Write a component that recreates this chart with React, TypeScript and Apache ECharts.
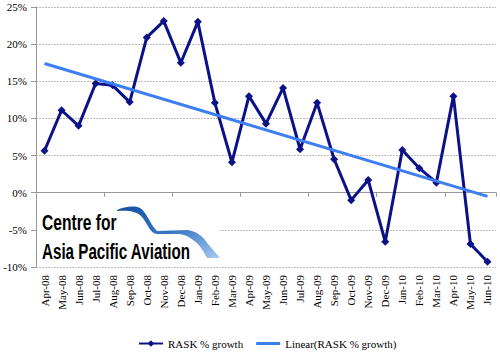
import React, { useEffect, useRef } from "react";
import * as echarts from "echarts";

const categories = [
  "Apr-08", "May-08", "Jun-08", "Jul-08", "Aug-08", "Sep-08", "Oct-08", "Nov-08", "Dec-08",
  "Jan-09", "Feb-09", "Mar-09", "Apr-09", "May-09", "Jun-09", "Jul-09", "Aug-09", "Sep-09",
  "Oct-09", "Nov-09", "Dec-09", "Jan-10", "Feb-10", "Mar-10", "Apr-10", "May-10", "Jun-10",
];
const raskGrowth = [
  5.65, 11.1, 9.0, 14.7, 14.45, 12.2, 20.9, 23.1, 17.5,
  23.0, 12.1, 4.1, 13.0, 9.3, 14.1, 5.85, 12.1, 4.5,
  -1.0, 1.7, -6.6, 5.75, 3.3, 1.35, 13.0, -6.9, -9.3,
];
const trendStart = 17.4;
const trendEnd = -0.5;
const seriesNames = ["RASK % growth", "Linear(RASK % growth)"];
const logoLines = ["Centre for", "Asia Pacific Aviation"];

const swooshPath =
  "M117,210 C124,207 134,205 140,208 C146,211 150,224 157,231 L187,230 C196,231 203,236 208,244 L220,258 L207,258 C203,250 198,242 190,238 C186,235 182,234 178,234 L157,234 C150,234 147,222 141,216 C137,212 130,210 117,211 Z";

let registered = false;
function registerLogo() {
  if (registered) return;
  echarts.graphic.registerShape("logo", echarts.graphic.extendPath(swooshPath, {}) as any);
  registered = true;
}

const serif = '"Liberation Serif", "Times New Roman", serif';
const navy = "#0b1288";
const trendBlue = "#3d7ef2";

export default function App() {
  const ref = useRef<HTMLDivElement>(null);
  useEffect(() => {
    if (!ref.current) return;
    registerLogo();
    const chart = echarts.init(ref.current, undefined, { renderer: "svg" });
    const trend = categories.map((_, i) =>
      i === 0 ? trendStart : i === categories.length - 1 ? trendEnd : null
    );
    chart.setOption({
      animation: false,
      backgroundColor: "#fff",
      grid: { left: 36, right: 4, top: 7, bottom: 87, containLabel: false },
      legend: {
        bottom: 0,
        left: 133,
        itemGap: 13,
        itemWidth: 24,
        itemHeight: 8,
        textStyle: { fontFamily: serif, fontSize: 11, color: "#000" },
        data: [
          { name: seriesNames[0] },
          { name: seriesNames[1], icon: "path://M0,0 L24,0 L24,3 L0,3 Z", itemStyle: { color: trendBlue } },
        ],
      },
      xAxis: [
        {
          type: "category",
          data: categories,
          position: "bottom",
          axisLine: { show: false, onZero: false },
          axisTick: { show: false },
          axisLabel: {
            rotate: 90,
            interval: 0,
            margin: 8,
            fontFamily: serif,
            fontSize: 11,
            color: "#000",
          },
          splitLine: { show: false },
        },
        {
          type: "category",
          data: categories,
          position: "bottom",
          axisLine: { show: true, onZero: true, lineStyle: { color: "#999", width: 1 } },
          axisTick: { show: true, length: 4, alignWithLabel: false, lineStyle: { color: "#999" } },
          axisLabel: { show: false },
          splitLine: { show: false },
        },
      ],
      yAxis: {
        type: "value",
        min: -10,
        max: 25,
        interval: 5,
        axisLine: { show: true, lineStyle: { color: "#999" } },
        axisTick: { show: true, length: 5, lineStyle: { color: "#999" } },
        axisLabel: {
          formatter: "{value}%",
          fontFamily: serif,
          fontSize: 11,
          color: "#000",
          margin: 9,
        },
        splitLine: { show: true, lineStyle: { color: "#bdbdbd", type: [2, 1], width: 1 } },
      },
      series: [
        {
          name: seriesNames[0],
          type: "line",
          data: raskGrowth,
          xAxisIndex: 0,
          symbol: "diamond",
          symbolSize: 8,
          lineStyle: { color: navy, width: 3 },
          itemStyle: { color: navy },
          z: 3,
        },
        {
          name: seriesNames[1],
          type: "line",
          data: trend,
          xAxisIndex: 0,
          connectNulls: true,
          symbol: "none",
          lineStyle: { color: trendBlue, width: 3 },
          itemStyle: { color: trendBlue },
          z: 4,
        },
      ],
      graphic: [
        { type: "rect", z: 10, shape: { x: 37, y: 204, width: 183, height: 60 }, style: { fill: "#fff" } },
        {
          type: "logo",
          z: 11,
          x: 0,
          y: 0,
          style: {
            fill: new echarts.graphic.LinearGradient(0, 0, 1, 1, [
              { offset: 0, color: "#15509f" },
              { offset: 0.5, color: "#3576c4" },
              { offset: 1, color: "#a6c9ee" },
            ]),
          },
        },
        {
          type: "text",
          z: 12,
          x: 42,
          y: 223,
          scaleX: 0.71,
          style: { text: logoLines[0], x: 0, y: 0, font: 'bold 22px "Liberation Sans", Arial, sans-serif', fill: "#000", verticalAlign: "middle" },
        },
        {
          type: "text",
          z: 12,
          x: 42,
          y: 251,
          scaleX: 0.69,
          style: { text: logoLines[1], x: 0, y: 0, font: 'bold 22px "Liberation Sans", Arial, sans-serif', fill: "#000", verticalAlign: "middle" },
        },
      ],
    });
    return () => chart.dispose();
  }, []);
  return <div ref={ref} style={{ width: 500, height: 354, position: "absolute", left: 0, top: 0 }} />;
}
